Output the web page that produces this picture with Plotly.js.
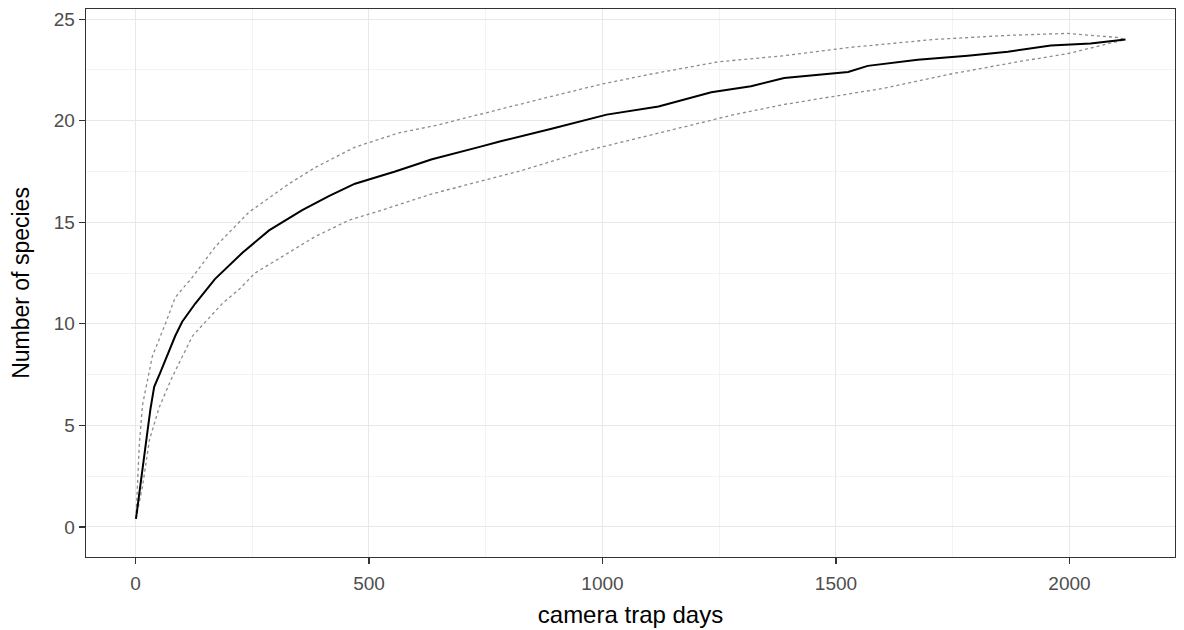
<!DOCTYPE html>
<html>
<head>
<meta charset="utf-8">
<script src="https://cdn.plot.ly/plotly-3.0.1.min.js"></script>
<style>html,body{margin:0;padding:0;background:#fff;}#chart{width:1184px;height:630px;}</style>
</head>
<body>
<div id="chart"></div>
<script>
// Species accumulation curve (mean)
var meanDays = [1, 15, 25, 32, 40, 53, 68, 85, 100, 128, 170, 229, 286, 357, 415, 470, 556, 635, 735, 784, 891, 1009, 1120, 1233, 1318, 1389, 1526, 1568, 1675, 1782, 1868, 1960, 2045, 2081, 2120];
var meanSpecies = [0.4, 2.7, 4.6, 5.8, 6.9, 7.6, 8.4, 9.4, 10.1, 11.0, 12.2, 13.5, 14.6, 15.6, 16.3, 16.9, 17.5, 18.1, 18.7, 19.0, 19.6, 20.3, 20.7, 21.4, 21.7, 22.1, 22.4, 22.7, 23.0, 23.2, 23.4, 23.7, 23.8, 23.9, 24.0];

// Upper confidence bound
var upperDays = [1, 8, 15, 36, 64, 85, 122, 171, 243, 329, 385, 470, 564, 650, 735, 769, 891, 998, 1105, 1248, 1389, 1526, 1568, 1709, 1868, 1996, 2102, 2120];
var upperSpecies = [0.4, 4.0, 6.0, 8.4, 10.0, 11.3, 12.3, 13.8, 15.5, 16.9, 17.7, 18.7, 19.4, 19.8, 20.3, 20.5, 21.2, 21.8, 22.3, 22.9, 23.2, 23.6, 23.7, 24.0, 24.2, 24.3, 24.1, 24.0];

// Lower confidence bound
var lowerDays = [1, 15, 30, 51, 79, 122, 186, 222, 256, 314, 385, 457, 528, 635, 735, 820, 962, 1105, 1282, 1389, 1526, 1603, 1746, 1889, 1996, 2081, 2120];
var lowerSpecies = [0.4, 2.0, 4.3, 5.9, 7.4, 9.4, 11.0, 11.7, 12.5, 13.3, 14.3, 15.1, 15.6, 16.4, 17.0, 17.5, 18.5, 19.3, 20.3, 20.8, 21.3, 21.6, 22.3, 22.9, 23.3, 23.8, 24.0];

var xTicks = [0, 500, 1000, 1500, 2000];
var yTicks = [0, 5, 10, 15, 20, 25];
var xMinor = [250, 750, 1250, 1750];
var yMinor = [2.5, 7.5, 12.5, 17.5, 22.5];

var ciLine = {color: '#8c8c8c', width: 1.3, dash: 'dot'};
var traces = [
  {x: upperDays, y: upperSpecies, type: 'scatter', mode: 'lines', line: ciLine, hoverinfo: 'x+y'},
  {x: lowerDays, y: lowerSpecies, type: 'scatter', mode: 'lines', line: ciLine, hoverinfo: 'x+y'},
  {x: meanDays, y: meanSpecies, type: 'scatter', mode: 'lines', line: {color: '#000', width: 2}, hoverinfo: 'x+y'}
];

var font = 'Liberation Sans, Arial, sans-serif';
var layout = {
  width: 1184, height: 630,
  margin: {l: 86, r: 9, t: 9, b: 73},
  paper_bgcolor: '#fff', plot_bgcolor: '#fff',
  showlegend: false,
  font: {family: font, color: '#4d4d4d'},
  xaxis: {
    range: [-106, 2226],
    tickvals: xTicks, ticktext: xTicks.map(String),
    ticks: 'outside', ticklen: 6, tickwidth: 1.3, tickcolor: '#333',
    ticklabelstandoff: 3,
    tickfont: {size: 19, color: '#4d4d4d', family: font},
    showgrid: true, gridcolor: '#e8e8e8', gridwidth: 1,
    minor: {tickvals: xMinor, showgrid: true, gridcolor: '#f0f0f0', gridwidth: 0.8, ticks: ''},
    zeroline: false, showline: true, mirror: true, linecolor: '#333', linewidth: 1.3,
    title: {text: 'camera trap days', font: {size: 24, color: '#000', family: font}, standoff: 13}
  },
  yaxis: {
    range: [-1.48, 25.5],
    tickvals: yTicks, ticktext: yTicks.map(String),
    ticks: 'outside', ticklen: 6, tickwidth: 1.3, tickcolor: '#333',
    tickfont: {size: 19, color: '#4d4d4d', family: font},
    showgrid: true, gridcolor: '#e8e8e8', gridwidth: 1,
    minor: {tickvals: yMinor, showgrid: true, gridcolor: '#f0f0f0', gridwidth: 0.8, ticks: ''},
    zeroline: false, showline: true, mirror: true, linecolor: '#333', linewidth: 1.3,
    title: {text: 'Number of species', font: {size: 23, color: '#000', family: font}, standoff: 17}
  }
};

Plotly.newPlot('chart', traces, layout, {displayModeBar: false, staticPlot: true});
</script>
</body>
</html>
